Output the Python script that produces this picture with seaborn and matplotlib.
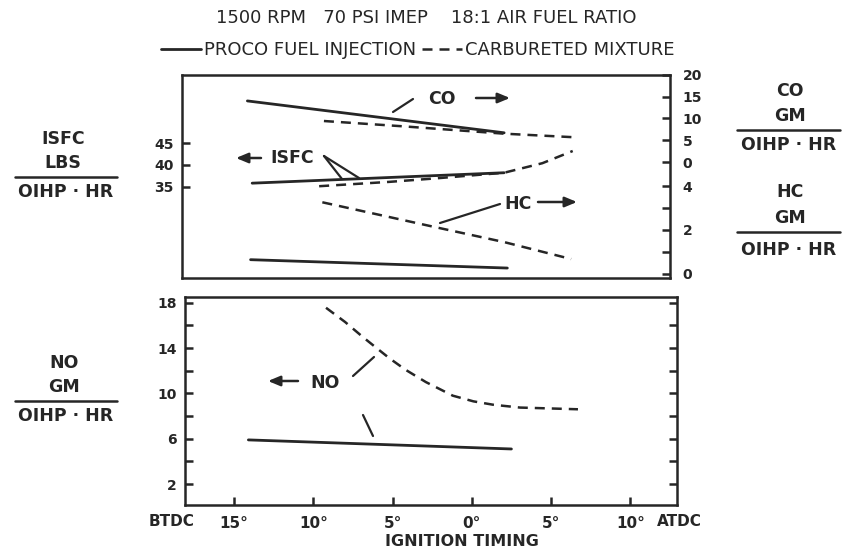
import matplotlib
matplotlib.use("Agg")
import matplotlib.pyplot as plt
import seaborn as sns
from matplotlib.lines import Line2D

# ---------------- data (ignition timing in degrees, negative = BTDC) ----------------
co_inj_x = [-13.9, 2.2]
co_inj = [14.0, 6.7]
co_carb_x = [-9.1, -4.2, 2.2, 6.5]
co_carb = [9.4, 8.2, 6.5, 5.7]

isfc_inj_x = [-13.6, 2.2]
isfc_inj = [35.8, 38.2]
isfc_carb_x = [-9.4, -5.0, -2.1, 2.2, 4.6, 6.5]
isfc_carb = [35.1, 36.1, 36.9, 38.2, 40.4, 43.2]

hc_inj_x = [-13.7, 2.4]
hc_inj = [0.65, 0.27]
hc_carb_x = [-9.2, -2.5, 2.2, 6.4]
hc_carb = [3.26, 2.19, 1.45, 0.68]

no_inj_x = [-14.1, 2.5]
no_inj = [5.9, 5.1]
no_carb_x = [-9.2, -8.0, -6.9, -6.1, -5.2, -4.2, -2.9, -1.2, 0.1, 1.35, 3.05, 4.3, 6.7]
no_carb = [17.55, 16.3, 15.0, 14.1, 13.1, 12.1, 11.0, 9.8, 9.3, 9.0, 8.75, 8.7, 8.6]

timing_ticks = [-15, -10, -5, 0, 5, 10]
timing_labels = ["15°", "10°", "5°", "0°", "5°", "10°"]

# ---------------- style ----------------
sns.set_style("white")
plt.rcParams["font.family"] = ["DejaVu Sans"]
INK = "#262626"
LW = 2.0
DASH = (0, (4, 2.8))

W, H = 845, 550
fig = plt.figure(figsize=(W / 100, H / 100), dpi=100)


def box(l, t, r, b):
    return [l / W, 1 - b / H, (r - l) / W, (b - t) / H]


def fp(px, py):
    return (px / W, 1 - py / H)


ax_top = fig.add_axes(box(182, 74.5, 670, 277.5))
ax_co = ax_top.twinx()
ax_hc = ax_top.twinx()
ax_bot = fig.add_axes(box(185, 297, 677, 505))

# ---------------- curves ----------------
sns.lineplot(x=isfc_inj_x, y=isfc_inj, ax=ax_top, color=INK, lw=LW)
h_solid = ax_top.lines[-1]
sns.lineplot(x=isfc_carb_x, y=isfc_carb, ax=ax_top, color=INK, lw=LW * 0.9, linestyle=DASH)
h_dash = ax_top.lines[-1]

sns.lineplot(x=co_inj_x, y=co_inj, ax=ax_co, color=INK, lw=LW)
sns.lineplot(x=co_carb_x, y=co_carb, ax=ax_co, color=INK, lw=LW * 0.9, linestyle=DASH)

sns.lineplot(x=hc_inj_x, y=hc_inj, ax=ax_hc, color=INK, lw=LW)
sns.lineplot(x=hc_carb_x, y=hc_carb, ax=ax_hc, color=INK, lw=LW * 0.9, linestyle=DASH)

sns.lineplot(x=no_inj_x, y=no_inj, ax=ax_bot, color=INK, lw=LW)
sns.lineplot(x=no_carb_x, y=no_carb, ax=ax_bot, color=INK, lw=LW * 0.9, linestyle=DASH)

# ---------------- axes ----------------
for a in (ax_top, ax_bot):
    for s in a.spines.values():
        s.set_visible(True)
        s.set_linewidth(1.8)
        s.set_color(INK)
    a.set_xticks(timing_ticks)
    a.tick_params(axis="both", direction="in", length=6, width=1.8, color=INK,
                  labelcolor=INK, labelsize=10)
    a.set_xlabel("")
    a.set_ylabel("")
    a.set_facecolor("none")

for a in (ax_co, ax_hc):
    for s in a.spines.values():
        s.set_visible(False)
    a.set_ylabel("")

ax_top.set_xlim(-18.0, 12.6)
ax_top.set_ylim(14.1, 60.8)
ax_top.set_yticks([35, 40, 45])
ax_top.tick_params(axis="x", labelbottom=False)
ax_top.tick_params(axis="y", left=True, right=False, pad=6)
for t in ax_top.get_yticklabels():
    t.set_fontweight("bold")

ax_co.set_ylim(-26.43, 20.05)
ax_co.set_yticks([0, 5, 10, 15, 20])
ax_co.tick_params(axis="y", direction="in", right=True, left=False, labelright=True,
                  length=6, width=1.8, color=INK, labelcolor=INK, labelsize=10, pad=9)

ax_hc.set_ylim(-0.16, 9.07)
ax_hc.set_yticks([0, 1, 2, 3, 4])
ax_hc.set_yticklabels(["0", "", "2", "", "4"])
ax_hc.tick_params(axis="y", direction="in", right=True, left=False, labelright=True,
                  length=6, width=1.8, color=INK, labelcolor=INK, labelsize=10, pad=9)
for a in (ax_co, ax_hc):
    for t in a.get_yticklabels():
        t.set_fontweight("bold")

ax_bot.set_xlim(-18.1, 12.95)
ax_bot.set_ylim(0.16, 18.5)
ax_bot.set_yticks(range(2, 19, 2))
ax_bot.set_yticklabels(["2", "", "6", "", "10", "", "14", "", "18"])
ax_bot.set_xticklabels(timing_labels)
ax_bot.tick_params(axis="y", left=True, right=True, labelright=False, pad=6)
ax_bot.tick_params(axis="x", bottom=True, pad=8, labelsize=11)
for t in ax_bot.get_yticklabels() + ax_bot.get_xticklabels():
    t.set_fontweight("bold")

# ---------------- titles / legend ----------------
fig.text(*fp(426, 18), "1500 RPM   70 PSI IMEP    18:1 AIR FUEL RATIO", ha="center",
         va="center", fontsize=13, color=INK)
fig.legend([h_solid, h_dash], ["PROCO FUEL INJECTION", "CARBURETED MIXTURE"],
           loc="center", bbox_to_anchor=fp(418, 50), ncol=2, frameon=False,
           handlelength=2.2, handletextpad=0.2, columnspacing=0.3, fontsize=13,
           labelcolor=INK)

fig.text(*fp(172, 522), "BTDC", ha="center", va="center", fontsize=11, weight="bold", color=INK)
fig.text(*fp(679, 522), "ATDC", ha="center", va="center", fontsize=11, weight="bold", color=INK)
fig.text(*fp(462, 541), "IGNITION TIMING", ha="center", va="center", fontsize=11.5,
         weight="bold", color=INK)


# ---------------- unit labels (fractions) ----------------
def frac(cx, top_lines, bottom, ys, y_bar, y_bot, x0, x1):
    for s, y in zip(top_lines, ys):
        fig.text(*fp(cx, y), s, ha="center", va="center", fontsize=12.5, weight="bold", color=INK)
    fig.add_artist(Line2D([x0 / W, x1 / W], [1 - y_bar / H] * 2, transform=fig.transFigure,
                          color=INK, lw=1.8))
    fig.text(*fp((x0 + x1) / 2, y_bot), bottom, ha="center", va="center", fontsize=12.5,
             weight="bold", color=INK)


frac(63, ["ISFC", "LBS"], "OIHP · HR", [139, 163], 177, 192, 15, 117)
frac(64, ["NO", "GM"], "OIHP · HR", [363, 387], 401, 416, 15, 117)
frac(790, ["CO", "GM"], "OIHP · HR", [91, 116], 130, 145, 737, 840)
frac(790, ["HC", "GM"], "OIHP · HR", [192, 218], 232, 250, 737, 840)

# ---------------- in-plot callouts ----------------
for s, x, y in [("CO", 442, 99), ("ISFC", 292, 158), ("HC", 518, 204), ("NO", 325, 383)]:
    fig.text(*fp(x, y), s, ha="center", va="center", fontsize=12.5, weight="bold", color=INK)

leaders = [((393, 112), (413, 99)), ((324, 156), (342, 179)), ((324, 156), (359, 178)),
           ((500, 204), (440, 223)), ((353, 376), (374, 357)), ((363, 415), (373, 436))]
for p0, p1 in leaders:
    a, b = fp(*p0), fp(*p1)
    fig.add_artist(Line2D([a[0], b[0]], [a[1], b[1]], transform=fig.transFigure,
                          color=INK, lw=1.6))

arrows = [((476, 98), (510, 98)), ((261, 158), (236, 158)),
          ((538, 202), (577, 202)), ((298, 381), (268, 381))]
for p0, p1 in arrows:
    ax_top.annotate("", xy=fp(*p1), xytext=fp(*p0), xycoords="figure fraction",
                    textcoords="figure fraction",
                    arrowprops=dict(arrowstyle="-|>,head_length=0.6,head_width=0.25",
                                    lw=1.8, color=INK, shrinkA=0, shrinkB=0,
                                    mutation_scale=12))

fig.savefig("out.png", dpi=100, facecolor="white")
